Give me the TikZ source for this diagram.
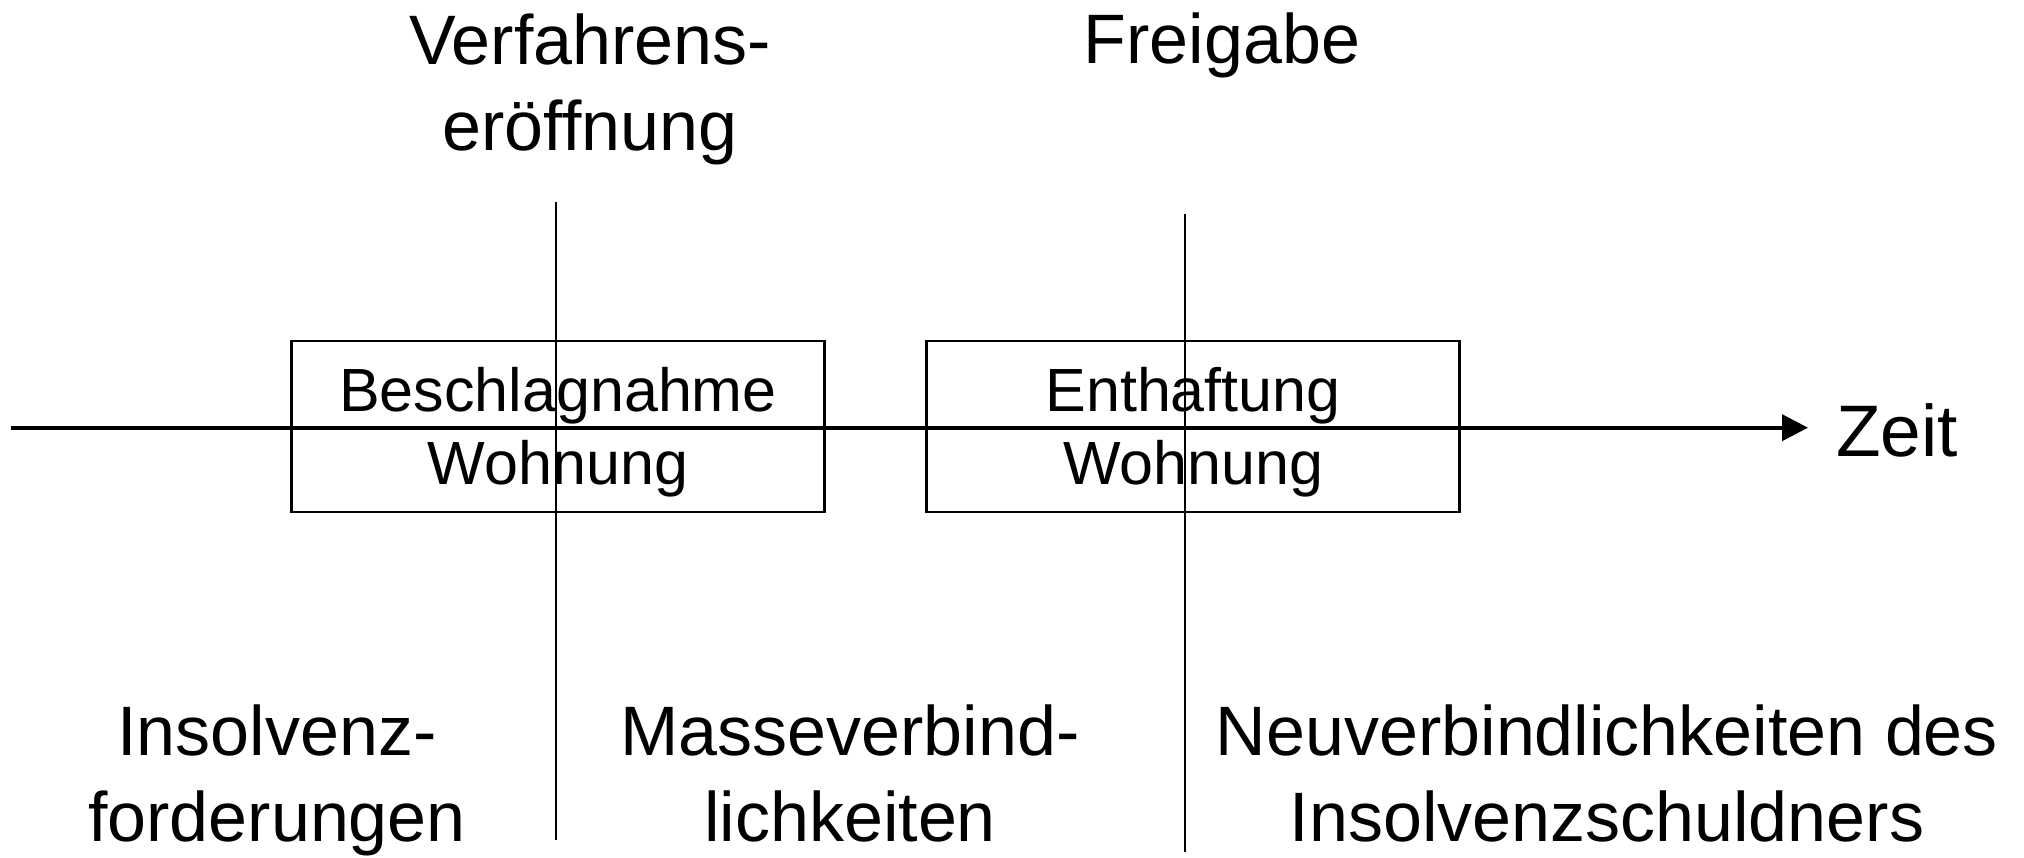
\documentclass[tikz,border=0pt]{standalone}
\usepackage{fontspec}
\setmainfont{Liberation Sans}
\usetikzlibrary{arrows.meta}
\begin{document}
\begin{tikzpicture}[x=1pt,y=-1pt,
  big/.style={font=\fontsize{70}{86}\selectfont, align=center, inner sep=0pt, anchor=base},
  small/.style={font=\fontsize{61}{72.6}\selectfont, inner sep=0pt, anchor=base},
  period/.style={draw, line width=2.5pt, minimum width=533pt, minimum height=171pt, inner sep=0pt},
  divider/.style={line width=1.5pt},
  axis/.style={line width=4pt, -{Triangle[length=26pt,width=26pt]}}]
\useasboundingbox (0,0) rectangle (2024,857);
% boxes
\node[period] (b1) at (558,426.7) {};
\node[period] (b2) at (1193,426.7) {};
% box texts
\node[small] (b1a) at (558,411.7) {Beschlagnahme};
\node[small] (b1b) at (558,484.3) {Wohnung};
\node[small] (b2a) at (1193,411.7) {Enthaftung};
\node[small] (b2b) at (1193,484.3) {Wohnung};
% axis
\coordinate (a0) at (11,427.7);
\coordinate (a1) at (1808,427.7);
\draw[axis] (a0) -- (a1);
\node[font=\fontsize{73}{86}\selectfont, inner sep=0pt, anchor=base west] (zeit) at (1836,456) {Zeit};
% dividers
\coordinate (v1t) at (556,202);
\coordinate (v1b) at (556,840);
\coordinate (v2t) at (1185,214);
\coordinate (v2b) at (1185,852);
\draw[divider] (v1t) -- (v1b);
\draw[divider] (v2t) -- (v2b);
% top labels (base anchor = last line's baseline)
\node[big] (t1) at (590,150.5) {Verfahrens-\\eröffnung};
\node[big] (t2) at (1222,63) {Freigabe};
% bottom labels
\node[big] (l1) at (277,841.7) {Insolvenz-\\forderungen};
\node[big] (l2) at (850,841.7) {Masseverbind-\\lichkeiten};
\node[big] (l3) at (1607,841.7) {Neuverbindlichkeiten des\\Insolvenzschuldners};
\end{tikzpicture}
\end{document}
